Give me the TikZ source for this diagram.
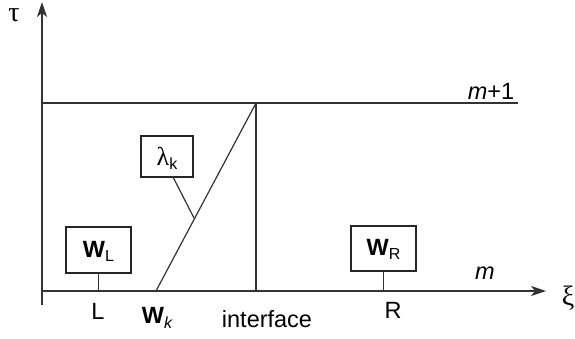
\documentclass[tikz,border=0pt]{standalone}
\usepackage{fontspec}
\setmainfont{Liberation Sans}
\newfontfamily\grk{Liberation Serif}
\usetikzlibrary{arrows.meta}
\begin{document}
\begin{tikzpicture}[x=1pt,y=-1pt,
  ln/.style={line width=1.2pt,draw=black!80},
  box/.style={ln,draw=black!85,fill=white,inner sep=0pt},
  lbl/.style={font=\fontsize{23.5}{26}\selectfont,inner sep=0pt},
  ax/.style={ln,-{Stealth[length=15pt,width=10pt,inset=4pt]}}]
\useasboundingbox (0,0) rectangle (575,338);
% axes
\coordinate (O) at (42,291);
\coordinate (Ytop) at (42,2);
\coordinate (Xend) at (546,291);
\draw[ax] (42,305) -- (Ytop);
\draw[ax] (O) -- (Xend);
% top line
\coordinate (TL) at (42,103);
\coordinate (TR) at (518,103);
\draw[ln] (TL) -- (TR);
% interface
\coordinate (I0) at (256,291);
\coordinate (I1) at (256,103);
\draw[ln] (I0) -- (I1);
% characteristic
\coordinate (K0) at (156,291);
\draw[ln] (K0) -- (I1);
% boxes
\node[box,minimum width=65pt,minimum height=46pt] (WL) at (98.5,250) {};
\node[lbl] at (98.5,251) {\textbf{W}\fontsize{16}{18}\selectfont\raisebox{-4pt}{L}};
\coordinate (Lp) at (98.5,291);
\draw[ln] (WL.south) -- (Lp);
\node[box,minimum width=52pt,minimum height=41pt] (LK) at (167,156.5) {};
\node[lbl] at (167,158) {{\grk\fontsize{26}{28}\selectfont λ}\fontsize{16}{18}\selectfont\raisebox{-4pt}{k}};
\coordinate (Lm) at (194,218);
\draw[ln] (173,177) -- (Lm);
\node[box,minimum width=65pt,minimum height=45pt] (WR) at (383.5,248.5) {};
\node[lbl] at (383.5,249.5) {\textbf{W}\fontsize{16}{18}\selectfont\raisebox{-4pt}{R}};
\coordinate (Rp) at (383.5,291);
\draw[ln] (WR.south) -- (Rp);
% labels
\node[lbl,font=\grk\fontsize{28}{30}\selectfont] (tau) at (14,15) {τ};
\node[lbl,font=\grk\fontsize{28}{30}\selectfont,anchor=east] (xi) at (574.5,298) {ξ};
\node[lbl] (L) at (98,311) {L};
\node[lbl] (Wk) at (157,318) {\textbf{W}\fontsize{16}{18}\selectfont\raisebox{-5pt}{\itshape k}};
\node[lbl] (intf) at (267,319) {interface};
\node[lbl] (R) at (393,310) {R};
\node[lbl] (m) at (485,273) {\itshape m};
\node[lbl] (m1) at (491,91) {\itshape m\upshape +1};
\end{tikzpicture}
\end{document}
